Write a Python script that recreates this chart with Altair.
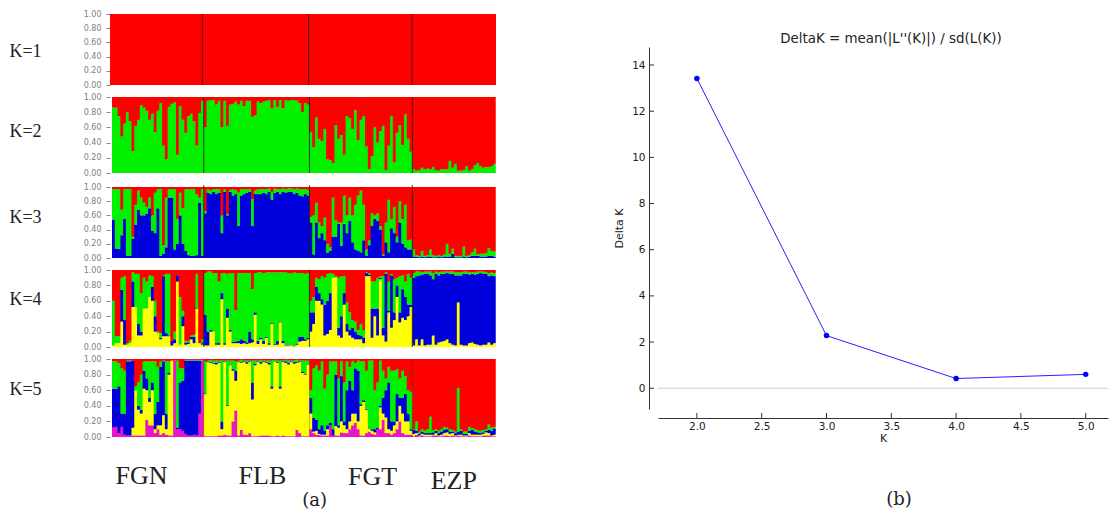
import altair as alt
import pandas as pd

# ---- population sizes and labels
POPS = ["FGN", "FLB", "FGT", "EZP"]
SIZES = [33, 38, 37, 30]
TICK_POS = [17.8, 52.9, 90.8, 123.5]
LABEL_NAMES = ["FGN", "FLB", "FGT", "EZP", "(a)"]
LABEL_X = [10.6, 54.1, 93.7, 122.9, 72.9]
LABEL_Y = [27, 27, 28, 32, 52]

RED, GREEN, BLUE, YELLOW, MAGENTA = "#ff0000", "#00f000", "#0000dc", "#ffff00", "#ea14c8"
COMP_NAMES = ["magenta", "yellow", "blue", "green", "red"]
COMP_COLORS = [MAGENTA, YELLOW, BLUE, GREEN, RED]

# ---- K=2 : green share per individual (rest red)
K2_FGN = [.86,.86,.75,.48,.65,.80,.68,.29,.62,.70,.89,.86,.82,.70,.78,.54,.82,.92,.36,.18,.87,.91,.93,.24,.88,.70,.53,.75,.78,.68,.36,.79,.95]
K2_FLB = [.60,.95,.96,.96,.90,.95,.60,.95,.62,.90,.91,.94,.90,.95,.88,.95,.95,.74,.76,.94,.92,.94,.95,.96,.85,.96,.87,.96,.85,.96,.95,.96,.96,.95,.92,.80,.92,.90]
K2_FGT = [.54,.34,.73,.45,.42,.58,.18,.17,.13,.63,.45,.50,.24,.75,.72,.58,.83,.43,.70,.75,.35,.05,.22,.60,.40,.55,.62,.04,.36,.75,.14,.53,.63,.37,.77,.45,.28]
K2_EZP = [.05,.03,.04,.07,.05,.06,.05,.08,.04,.03,.05,.05,.05,.16,.07,.12,.03,.03,.04,.09,.03,.05,.10,.13,.09,.07,.08,.08,.09,.12]

# ---- K=3 : cumulative blue, green tops (rest red)
K3_FGN = [(.54,.97),(.13,.97),(.13,.97),(.32,.68),(.55,.97),(.03,.97),(.03,.97),(.27,.30),(.47,.75),(.68,.95),(.60,.85),(.60,.78),(.62,.72),(.70,.85),(.38,.60),(.35,.92),(.70,.97),(.03,.97),(.06,.18),(.15,.85),(.85,.97),(.85,.97),(.12,.97),(.20,.55),(.60,.92),(.20,.70),(.10,.97),(.04,.97),(.03,.97),(.03,.97),(.04,.90),(.78,.85),(.03,.97)]
K3_FLB_B = [.63,.92,.90,.93,.90,.92,.35,.93,.60,.93,.88,.90,.45,.88,.90,.92,.93,.45,.90,.90,.90,.92,.90,.93,.82,.92,.93,.90,.93,.92,.93,.93,.90,.92,.88,.87,.90,.88]
K3_FLB_G = [.66,.97,.95,.97,.97,.97,.60,.97,.62,.96,.97,.96,.92,.97,.97,.97,.97,.83,.95,.97,.97,.97,.97,.98,.93,.98,.97,.97,.98,.97,.98,.98,.97,.98,.97,.97,.97,.96]
K3_FGT = [(.50,.58),(.05,.60),(.50,.78),(.28,.50),(.35,.45),(.25,.57),(.07,.20),(.10,.15),(.30,.85),(.30,.53),(.48,.50),(.17,.50),(.48,.88),(.35,.60),(.52,.85),(.22,.60),(.12,.75),(.10,.88),(.08,.95),(.25,.75),(.03,.12),(.18,.25),(.45,.63),(.55,.60),(.52,.63),(.40,.45),(.03,.05),(.22,.50),(.08,.82),(.42,.55),(.35,.72),(.22,.30),(.50,.80),(.20,.55),(.15,.75),(.12,.25),(.12,.26)]
K3_EZP_B = [.02,.02,.01,.02,.01,.02,.02,.01,.01,.02,.01,.02,.02,.02,.06,.01,.01,.01,.02,.01,.02,.03,.03,.03,.02,.02,.02,.03,.03,.02]
K3_EZP_G = [.12,.04,.03,.10,.03,.04,.12,.04,.03,.04,.03,.05,.20,.06,.13,.03,.03,.03,.16,.03,.04,.08,.13,.05,.06,.06,.07,.14,.10,.09]

# ---- K=4 : cumulative yellow, blue, green tops (rest red)
K4_FGN = [(.02,.02,.60),(.05,.05,.14),(.05,.05,.14),(.33,.74,.90),(.03,.35,.92),(.03,.03,.05),(.05,.05,.08),(.52,.85,.97),(.52,.52,.95),(.15,.30,.95),(.15,.20,.70),(.50,.50,.90),(.50,.50,.85),(.65,.65,.93),(.60,.78,.92),(.20,.40,.60),(.18,.18,.20),(.10,.12,.18),(.14,.92,.93),(.14,.18,.95),(.14,.15,.95),(.02,.08,.08),(.05,.10,.20),(.85,.93,.93),(.03,.03,.65),(.27,.40,.47),(.03,.06,.08),(.04,.06,.08),(.10,.13,.15),(.05,.13,.16),(.50,.51,.95),(.05,.05,.05),(.03,.05,.10)]
K4_FLB = [(.02,.42,.96),(.02,.20,.98),(.20,.22,.98),(.20,.20,.96),(.03,.05,.96),(.03,.05,.85),(.62,.70,.96),(.03,.05,.96),(.38,.50,.95),(.20,.22,.96),(.05,.07,.96),(.05,.07,.48),(.05,.08,.96),(.04,.10,.96),(.05,.08,.96),(.04,.06,.96),(.05,.20,.96),(.06,.10,.75),(.42,.45,.96),(.04,.08,.97),(.10,.12,.97),(.04,.08,.96),(.12,.13,.97),(.03,.05,.97),(.30,.31,.97),(.03,.04,.97),(.03,.08,.97),(.32,.33,.97),(.05,.08,.97),(.02,.03,.97),(.02,.03,.96),(.02,.02,.96),(.01,.02,.97),(.03,.04,.96),(.07,.13,.96),(.08,.13,.96),(.08,.10,.95),(.10,.12,.96)]
K4_FGT = [(.20,.45,.60),(.30,.45,.65),(.60,.78,.90),(.60,.70,.88),(.55,.62,.92),(.15,.55,.90),(.17,.60,.95),(.22,.70,.96),(.90,.90,.95),(.90,.90,.92),(.15,.25,.90),(.12,.40,.92),(.55,.70,.92),(.20,.30,.58),(.15,.22,.45),(.12,.25,.35),(.10,.20,.33),(.10,.16,.22),(.10,.15,.30),(.05,.12,.22),(.92,.96,.97),(.92,.94,.96),(.12,.50,.85),(.40,.50,.85),(.15,.50,.90),(.88,.90,.92),(.15,.25,.92),(.07,.95,.97),(.45,.47,.85),(.25,.93,.95),(.35,.45,.88),(.65,.80,.90),(.32,.45,.92),(.38,.75,.93),(.35,.65,.85),(.40,.55,.95),(.52,.55,.90)]
K4_EZP_Y = [.02,.10,.02,.10,.02,.03,.03,.15,.03,.06,.07,.08,.10,.05,.03,.02,.58,.03,.02,.02,.05,.06,.04,.03,.02,.03,.03,.06,.03,.05]
K4_EZP_B = [.90,.92,.93,.94,.95,.95,.93,.88,.95,.93,.95,.95,.96,.95,.95,.93,.93,.93,.95,.95,.94,.95,.94,.95,.96,.95,.95,.92,.93,.92]
K4_EZP_G = [.96,.98,.98,.97,.98,.98,.98,.96,.98,.97,.98,.98,.98,.98,.98,.97,.97,.97,.98,.98,.97,.97,.97,.98,.98,.98,.97,.96,.97,.96]

# ---- K=5 : cumulative magenta, yellow, blue, green tops (rest red)
K5_FGN = [(.12,.12,.62,.97),(.13,.13,.62,.97),(.05,.05,.65,.95),(.13,.13,.30,.88),(.03,.03,.30,.85),(.02,.02,.97,.98),(.02,.02,.97,.98),(.02,.12,.98,.98),(.02,.60,.60,.65),(.02,.35,.40,.70),(.02,.30,.35,.80),(.02,.62,.85,.97),(.22,.60,.75,.97),(.15,.45,.50,.97),(.15,.60,.70,.97),(.05,.10,.30,.97),(.10,.15,.45,.90),(.03,.15,.90,.97),(.05,.28,.97,.98),(.03,.10,.30,.97),(.02,.80,.82,.97),(.02,.98,.98,.98),(.98,.98,.98,.98),(.10,.10,.12,.98),(.10,.10,.70,.88),(.08,.08,.72,.88),(.04,.04,.98,.99),(.02,.02,.98,.99),(.02,.02,.98,.99),(.03,.03,.98,.99),(.02,.02,.98,.99),(.30,.30,.98,.99),(.98,.98,.98,.99)]
K5_FLB_M = [.01,.01,.01,.01,.01,.02,.02,.03,.02,.02,.20,.34,.02,.09,.03,.03,.05,.01,.01,.01,.02,.02,.02,.02,.01,.01,.02,.01,.02,.01,.01,.01,.01,.09,.05,.01,.01,.01]
K5_FLB_Y = [.55,.96,.95,.94,.93,.95,.10,.96,.40,.92,.85,.72,.96,.95,.96,.94,.96,.48,.92,.96,.94,.96,.95,.93,.62,.96,.95,.62,.96,.95,.93,.96,.94,.95,.96,.82,.80,.93]
K5_FLB_B = [.56,.97,.96,.95,.95,.96,.20,.97,.41,.93,.87,.85,.97,.96,.97,.96,.97,.70,.94,.97,.96,.97,.96,.95,.65,.96,.96,.65,.97,.97,.95,.97,.96,.96,.97,.84,.81,.94]
K5_FLB_G = [.97,.98,.99,.98,.98,.98,.98,.98,.98,.98,.98,.97,.98,.99,.98,.98,.98,.98,.98,.98,.99,.98,.98,.98,.98,.99,.98,.98,.98,.99,.98,.98,.98,.99,.98,.98,.98,.98]
K5_FGT = [(.10,.30,.50,.60),(.05,.07,.25,.88),(.03,.08,.22,.92),(.03,.04,.10,.85),(.02,.03,.15,.97),(.02,.03,.08,.62),(.02,.10,.15,.80),(.15,.15,.18,.97),(.02,.02,.10,.97),(.02,.14,.80,.97),(.02,.12,.15,.75),(.06,.20,.78,.97),(.05,.15,.20,.70),(.05,.10,.60,.97),(.10,.20,.72,.90),(.15,.30,.60,.97),(.18,.30,.88,.95),(.10,.20,.85,.98),(.02,.40,.42,.97),(.02,.45,.47,.97),(.05,.35,.36,.85),(.07,.10,.10,.98),(.04,.08,.10,.98),(.03,.06,.10,.60),(.10,.10,.12,.70),(.10,.38,.40,.98),(.22,.30,.50,.85),(.05,.25,.60,.75),(.05,.10,.70,.90),(.03,.08,.20,.85),(.05,.15,.20,.85),(.10,.20,.55,.87),(.20,.40,.50,.75),(.05,.30,.50,.85),(.03,.20,.55,.78),(.03,.20,.30,.60),(.03,.08,.10,.58)]
K5_EZP_M = [.01,.03,.01,.02,.01,.01,.01,.02,.02,.01,.01,.02,.02,.01,.02,.01,.02,.01,.01,.01,.02,.01,.01,.01,.01,.02,.02,.02,.01,.01]
K5_EZP_Y = [.04,.05,.02,.04,.03,.03,.03,.03,.05,.02,.03,.05,.06,.04,.05,.02,.03,.03,.02,.02,.05,.03,.03,.03,.03,.04,.06,.05,.02,.03]
K5_EZP_B = [.09,.08,.04,.07,.05,.05,.05,.06,.08,.05,.07,.09,.10,.07,.07,.05,.07,.08,.04,.04,.08,.09,.07,.06,.05,.06,.08,.09,.08,.11]
K5_EZP_G = [.10,.20,.07,.10,.08,.10,.26,.09,.10,.08,.10,.13,.12,.10,.09,.07,.63,.10,.07,.07,.13,.11,.10,.09,.08,.09,.10,.16,.12,.13]

# ---- Delta K curve
K_VALUES = [2.0, 3.0, 4.0, 5.0]
DELTA_K = [13.42, 2.28, 0.42, 0.60]
Y_TICKS = [0, 2, 4, 6, 8, 10, 12, 14]
X_TICKS = [2.0, 2.5, 3.0, 3.5, 4.0, 4.5, 5.0]

N = sum(SIZES)


def build_rows(individuals, names):
    rows = []
    for i, tops in enumerate(individuals):
        prev = 0.0
        for name, top in zip(names, list(tops) + [1.0]):
            top = max(prev, top)
            if top > prev:
                rows.append({"x0": i, "x1": min(i + 1.4, N), "y0": prev, "y1": top, "comp": name})
            prev = top
    return pd.DataFrame(rows)


def check(ind):
    assert len(ind) == N, f"bad length {len(ind)}"
    return ind


DIVIDERS = pd.DataFrame({"d": [33, 71, 108]})

K1 = check([()] * N)
K2 = check([(v,) for v in K2_FGN + K2_FLB + K2_FGT + K2_EZP])
K3 = check(K3_FGN + list(zip(K3_FLB_B, K3_FLB_G)) + K3_FGT + list(zip(K3_EZP_B, K3_EZP_G)))
K4 = check(K4_FGN + K4_FLB + K4_FGT + list(zip(K4_EZP_Y, K4_EZP_B, K4_EZP_G)))
K5 = check(K5_FGN + list(zip(K5_FLB_M, K5_FLB_Y, K5_FLB_B, K5_FLB_G)) + K5_FGT + list(zip(K5_EZP_M, K5_EZP_Y, K5_EZP_B, K5_EZP_G)))

WIDTH = 387
X_DOM_1 = [0, 138.36]
X_DOM = [-0.72, 138.45]


def panel(ind, names, label, height, title_y, xdom, ytop=1.0, div_opacity=0.85):
    df = build_rows(ind, names)
    x_scale = alt.Scale(domain=xdom, nice=False, zero=False)
    y_scale = alt.Scale(domain=[0, ytop], nice=False, zero=False)
    bars = alt.Chart(df).mark_rect(opacity=1).encode(
        x=alt.X("x0:Q", scale=x_scale, axis=alt.Axis(
            values=TICK_POS, labels=False, title=None, grid=False, tickSize=3,
            tickColor="#777", domainColor="#999", domainWidth=1)),
        x2="x1:Q",
        y=alt.Y("y0:Q", scale=y_scale, axis=alt.Axis(
            values=[0, .2, .4, .6, .8, 1.0], format=".2f", grid=False, domain=False,
            tickSize=4, tickColor="#888", labelColor="#808080", labelFont="DejaVu Sans",
            labelFontSize=8, labelPadding=5, title=label, titleAngle=0,
            titleFont="Liberation Serif", titleFontSize=18, titleFontWeight="normal",
            titleColor="#222", titleX=-85, titleY=title_y, titleAlign="center",
            titleBaseline="middle")),
        y2="y1:Q",
        color=alt.Color("comp:N", scale=alt.Scale(domain=COMP_NAMES, range=COMP_COLORS), legend=None),
    )
    rules = alt.Chart(DIVIDERS).mark_rule(color="#202020", strokeWidth=1, opacity=div_opacity).encode(
        x=alt.X("d:Q", scale=x_scale, axis=None))
    return alt.layer(bars, rules).properties(width=WIDTH, height=height)


p1 = panel(K1, ["red"], "K=1", 71, 37, X_DOM_1)
p2 = panel(K2, ["green", "red"], "K=2", 76, 34, X_DOM)
p3 = panel(K3, ["blue", "green", "red"], "K=3", 73, 32, X_DOM, ytop=1 + 2 / 71)
p4 = panel(K4, ["yellow", "blue", "green", "red"], "K=4", 77, 29, X_DOM)
p5 = panel(K5, ["magenta", "yellow", "blue", "green", "red"], "K=5", 78, 30, X_DOM, div_opacity=0.3)

labels_df = pd.DataFrame({"t": LABEL_NAMES, "x": LABEL_X, "y": LABEL_Y})
lab_x = alt.X("x:Q", scale=alt.Scale(domain=X_DOM, nice=False, zero=False), axis=None)
lab_y = alt.Y("y:Q", scale=alt.Scale(domain=[0, 60], reverse=True, nice=False, zero=False), axis=None)
pop_labels = alt.Chart(labels_df[labels_df.t != "(a)"]).mark_text(
    font="Liberation Serif", fontSize=26, color="#222", baseline="middle", align="center"
).encode(x=lab_x, y=lab_y, text="t:N")
a_label = alt.Chart(labels_df[labels_df.t == "(a)"]).mark_text(
    font="DejaVu Serif", fontSize=18, color="#222", baseline="middle", align="center"
).encode(x=lab_x, y=lab_y, text="t:N")
p6 = alt.layer(pop_labels, a_label).properties(width=WIDTH, height=60)

left = alt.vconcat(p1, p2, p3, p4, p5, p6, spacing=12, bounds="flush")

# ---- right-hand Delta K chart
RW, RH = 450, 362
dk = pd.DataFrame({"k": K_VALUES, "d": DELTA_K})
xs = alt.Scale(domain=[1.70, 5.172], nice=False, zero=False)
ys = alt.Scale(domain=[-0.9, 14.78], nice=False, zero=False)
x_axis = alt.Axis(values=X_TICKS, format=".1f", title="K", grid=False, ticks=False, offset=9,
                  domainColor="#333", labelColor="#222", labelFont="DejaVu Sans", labelFontSize=10.5,
                  labelPadding=3, titleFont="DejaVu Sans", titleFontSize=11, titleFontWeight="normal",
                  titleColor="#222", titlePadding=1)
y_axis = alt.Axis(values=Y_TICKS, format="d", title="Delta K", grid=False, ticks=False, offset=9,
                  domainColor="#333", labelColor="#222", labelFont="DejaVu Sans", labelFontSize=10.5,
                  labelPadding=4, titleFont="DejaVu Sans", titleFontSize=11, titleFontWeight="normal",
                  titleColor="#222", titlePadding=7)

line = alt.Chart(dk).mark_line(color="#2222ff", strokeWidth=1).encode(
    x=alt.X("k:Q", scale=xs, axis=x_axis), y=alt.Y("d:Q", scale=ys, axis=y_axis))
pts = alt.Chart(dk).mark_point(filled=True, color="#0000ff", size=30, opacity=1).encode(
    x=alt.X("k:Q", scale=xs, axis=x_axis), y=alt.Y("d:Q", scale=ys, axis=y_axis))
zero = alt.Chart(pd.DataFrame({"z": [0]})).mark_rule(color="#cccccc", strokeWidth=1).encode(
    y=alt.Y("z:Q", scale=ys, axis=y_axis))
ytick_df = pd.DataFrame({"v": Y_TICKS})
xtick_df = pd.DataFrame({"v": X_TICKS})
yticks = alt.Chart(ytick_df).mark_rule(color="#333", strokeWidth=1).encode(
    y=alt.Y("v:Q", scale=ys, axis=y_axis), x=alt.value(-9), x2=alt.value(-4))
xticks = alt.Chart(xtick_df).mark_rule(color="#333", strokeWidth=1).encode(
    x=alt.X("v:Q", scale=xs, axis=x_axis), y=alt.value(RH + 9), y2=alt.value(RH + 4))
b_label = alt.Chart(pd.DataFrame({"t": ["(b)"]})).mark_text(
    font="DejaVu Serif", fontSize=18, color="#222", baseline="middle", align="center"
).encode(text="t:N", x=alt.value(241), y=alt.value(453))

right = alt.layer(zero, yticks, xticks, line, pts, b_label).properties(
    width=RW, height=RH,
    title=alt.TitleParams("DeltaK = mean(|L''(K)|) / sd(L(K))", font="DejaVu Sans", fontSize=13.4,
                          fontWeight="normal", color="#222", offset=2, dx=8, anchor="middle"))

# empty strip that lowers the Delta K panel to its place beside the left column
SPACER_H = 17
spacer = alt.Chart(pd.DataFrame({"g": [0]})).mark_rule(opacity=0).encode(
    x=alt.value(0), y=alt.value(0), y2=alt.value(SPACER_H)).properties(width=RW, height=SPACER_H)
right_col = alt.vconcat(spacer, right, spacing=0)

chart = alt.hconcat(left, right_col, spacing=116).properties(
    padding={"left": 0, "top": 2, "right": 0, "bottom": 0}
).configure_view(stroke=None).configure_axis(tickWidth=1)

chart.save("out.html", embed_options={"renderer": "svg", "actions": False})
